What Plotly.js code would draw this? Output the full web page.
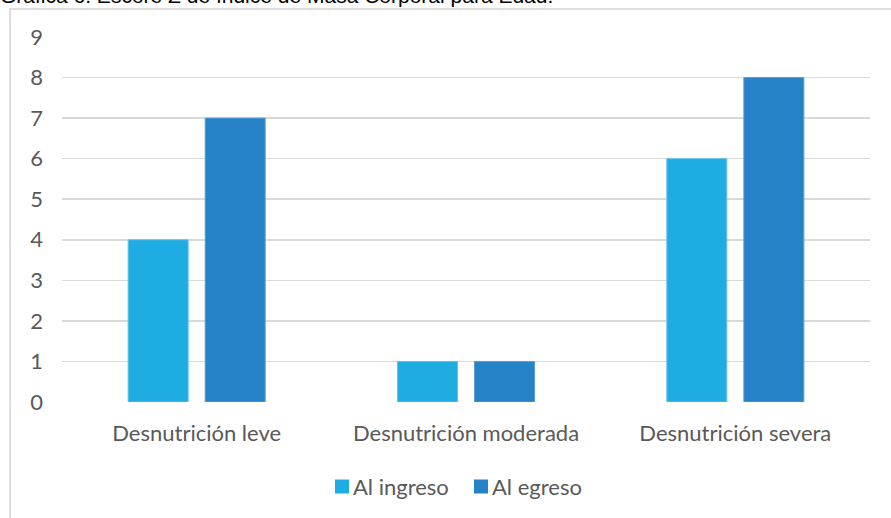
<!DOCTYPE html>
<html>
<head>
<meta charset="utf-8">
<script src="https://cdn.plot.ly/plotly-3.0.1.min.js"></script>
<style>
  html, body { margin: 0; padding: 0; background: #fff; overflow: hidden; }
  #frame { position: absolute; left: 9px; top: 8px; width: 900px; height: 540px;
           border: 2px solid #dedede; box-sizing: border-box; }
  #chart { position: absolute; left: 0; top: 0; width: 891px; height: 518px; }
</style>
</head>
<body>
<div id="frame"></div>
<div id="chart"></div>
<script>
// Chart data
const chartTitle = 'Gráfica 6. Escore Z de índice de Masa Corporal para Edad.';
const categories = ['Desnutrición leve', 'Desnutrición moderada', 'Desnutrición severa'];
const seriesNames = ['Al ingreso', 'Al egreso'];
const alIngreso = [4, 1, 6];
const alEgreso = [7, 1, 8];
const yTicks = [0, 1, 2, 3, 4, 5, 6, 7, 8, 9];

// Styling
const fillColors = ['#1EACE2', '#2682C7'];
const edgeColors = ['#62c3ea', '#5b9fd5'];
const labelFont = { family: 'Lato, "Open Sans", sans-serif', size: 22, color: '#595959' };

const W = 891, H = 518;
const M = { l: 62, r: 21, t: 37, b: 116 };
const plotW = W - M.l - M.r, plotH = H - M.t - M.b;
// pixel -> paper coordinate helpers
const px = x => (x - M.l) / plotW;
const py = y => (H - M.b - y) / plotH;

const values = [alIngreso, alEgreso];
const traces = seriesNames.map((name, i) => ({
  type: 'bar',
  name: name,
  x: categories,
  y: values[i],
  marker: { color: fillColors[i], line: { color: edgeColors[i], width: 1 } },
  hoverinfo: 'x+y+name',
  showlegend: false
}));

// Legend: small squares followed by the series name
const legendY = 486.5;
const legendItems = [{ sq: 335, text: 351 }, { sq: 474, text: 490 }];
const sq = 14;
const shapes = legendItems.map((it, i) => ({
  type: 'rect', xref: 'paper', yref: 'paper', layer: 'above',
  x0: px(it.sq), x1: px(it.sq + sq),
  y0: py(legendY + sq / 2), y1: py(legendY - sq / 2),
  fillcolor: fillColors[i], line: { width: 0 }
}));
const annotations = legendItems.map((it, i) => ({
  xref: 'paper', yref: 'paper', x: px(it.text), y: py(legendY),
  xanchor: 'left', yanchor: 'middle', showarrow: false,
  text: seriesNames[i], font: labelFont
}));
// Caption above the chart frame
annotations.push({
  xref: 'paper', yref: 'paper', x: px(-2), y: py(9),
  xanchor: 'left', yanchor: 'bottom', showarrow: false,
  text: chartTitle,
  font: { family: '"Liberation Sans", Arial, sans-serif', size: 21, color: '#000000' }
});

const layout = {
  width: W, height: H,
  margin: M,
  paper_bgcolor: 'rgba(0,0,0,0)',
  plot_bgcolor: 'rgba(0,0,0,0)',
  barmode: 'group',
  bargap: 0.428,
  bargroupgap: 0.221,
  showlegend: false,
  xaxis: {
    type: 'category',
    tickfont: labelFont,
    showgrid: false, zeroline: false, showline: false,
    ticks: '', ticklabelstandoff: 16
  },
  yaxis: {
    range: [0, 9],
    tickvals: yTicks,
    ticktext: yTicks.map(String),
    tickfont: labelFont,
    showgrid: true, gridcolor: '#d9d9d9', gridwidth: 1.5,
    zeroline: false, showline: false,
    ticks: '', ticklabelstandoff: 18
  },
  shapes: shapes,
  annotations: annotations
};

Plotly.newPlot('chart', traces, layout, { displayModeBar: false, staticPlot: true });
</script>
</body>
</html>
